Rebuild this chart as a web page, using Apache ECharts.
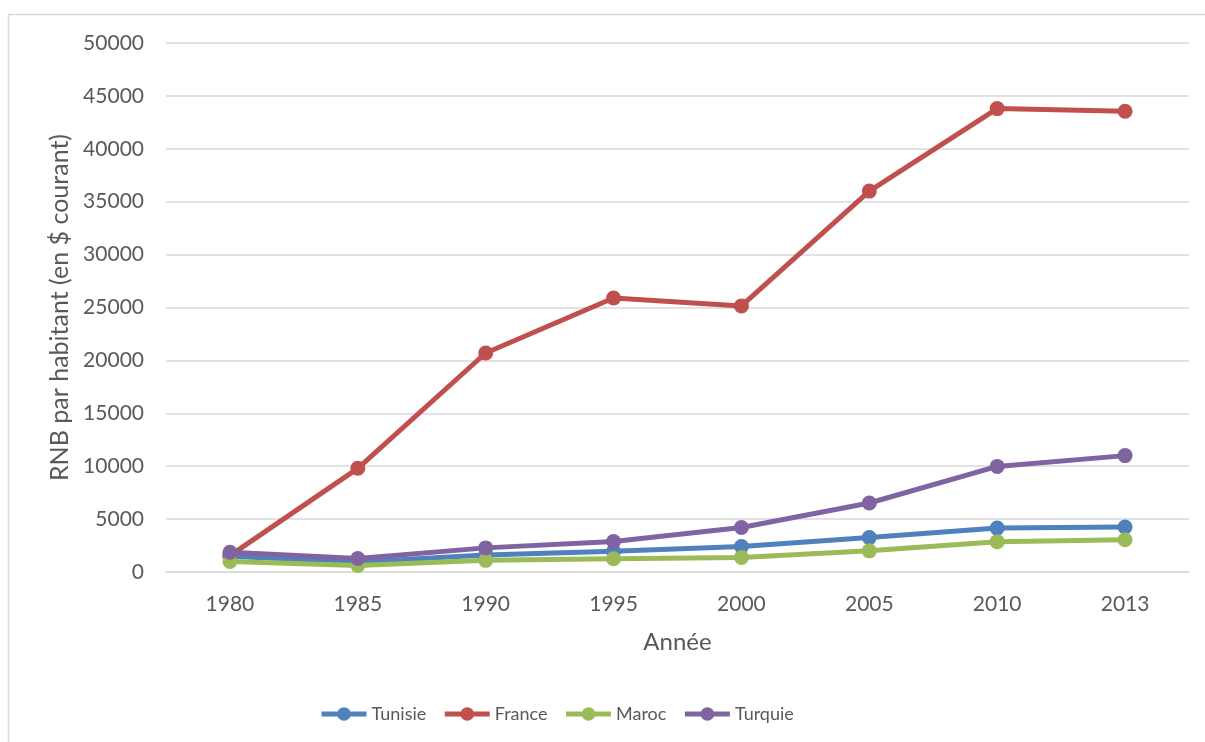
<!DOCTYPE html>
<html>
<head>
<meta charset="utf-8">
<script src="https://cdn.jsdelivr.net/npm/echarts@6/dist/echarts.min.js"></script>
<style>
  html, body { margin: 0; padding: 0; background: #fff; }
  #chart { width: 1205px; height: 742px; }
</style>
</head>
<body>
<div id="chart"></div>
<script>
// Années
const years = ['1980', '1985', '1990', '1995', '2000', '2005', '2010', '2013'];

// RNB par habitant (en $ courant)
const tunisie = [1500, 950, 1600, 1950, 2400, 3250, 4150, 4250];
const france  = [1550, 9800, 20700, 25900, 25150, 36000, 43800, 43550];
const maroc   = [1000, 620, 1100, 1250, 1380, 2000, 2870, 3050];
const turquie = [1870, 1280, 2280, 2880, 4200, 6520, 9980, 11000];

const FONT = 'Lato, "Open Sans", sans-serif';
const TEXT = '#595959';

function lineSeries(name, data, color) {
  return {
    name: name,
    type: 'line',
    data: data,
    symbol: 'circle',
    symbolSize: 15,
    lineStyle: { width: 5, color: color },
    itemStyle: { color: color },
    emphasis: { disabled: true },
    animation: false
  };
}

const chart = echarts.init(document.getElementById('chart'), null, { renderer: 'canvas' });
chart.setOption({
  backgroundColor: '#fff',
  textStyle: { fontFamily: FONT },
  grid: { left: 166, right: 16, top: 43, bottom: 170, containLabel: false },
  graphic: [{
    type: 'rect',
    shape: { x: 8.5, y: 14.5, width: 1220, height: 760 },
    style: { fill: null, stroke: '#d9d9d9', lineWidth: 1.5 },
    silent: true
  }],
  legend: {
    top: 705,
    left: 319,
    padding: 0,
    itemWidth: 45,
    itemHeight: 17,
    itemGap: 16,
    lineStyle: { width: 5 },
    textStyle: { fontFamily: FONT, fontSize: 18, color: TEXT },
    data: ['Tunisie', 'France', 'Maroc', 'Turquie']
  },
  xAxis: {
    type: 'category',
    data: years,
    boundaryGap: true,
    name: 'Année',
    nameLocation: 'middle',
    nameGap: 58,
    nameTextStyle: { fontFamily: FONT, fontSize: 24, color: TEXT },
    axisLine: { show: true, lineStyle: { color: '#d9d9d9', width: 1.5 } },
    axisTick: { show: false },
    axisLabel: { fontFamily: FONT, fontSize: 21, color: TEXT, margin: 22 }
  },
  yAxis: {
    type: 'value',
    min: 0,
    max: 50000,
    interval: 5000,
    name: 'RNB par habitant (en $ courant)',
    nameLocation: 'middle',
    nameGap: 92,
    nameTextStyle: { fontFamily: FONT, fontSize: 25, color: TEXT },
    axisLine: { show: false },
    axisTick: { show: false },
    splitLine: { lineStyle: { color: '#d9d9d9', width: 1.5 } },
    axisLabel: {
      fontFamily: FONT, fontSize: 21, color: TEXT, margin: 22,
      formatter: function (v) { return String(v); }
    }
  },
  series: [
    lineSeries('Tunisie', tunisie, '#4f81bd'),
    lineSeries('France', france, '#c0504d'),
    lineSeries('Maroc', maroc, '#9bbb59'),
    lineSeries('Turquie', turquie, '#8064a2')
  ]
});
</script>
</body>
</html>
